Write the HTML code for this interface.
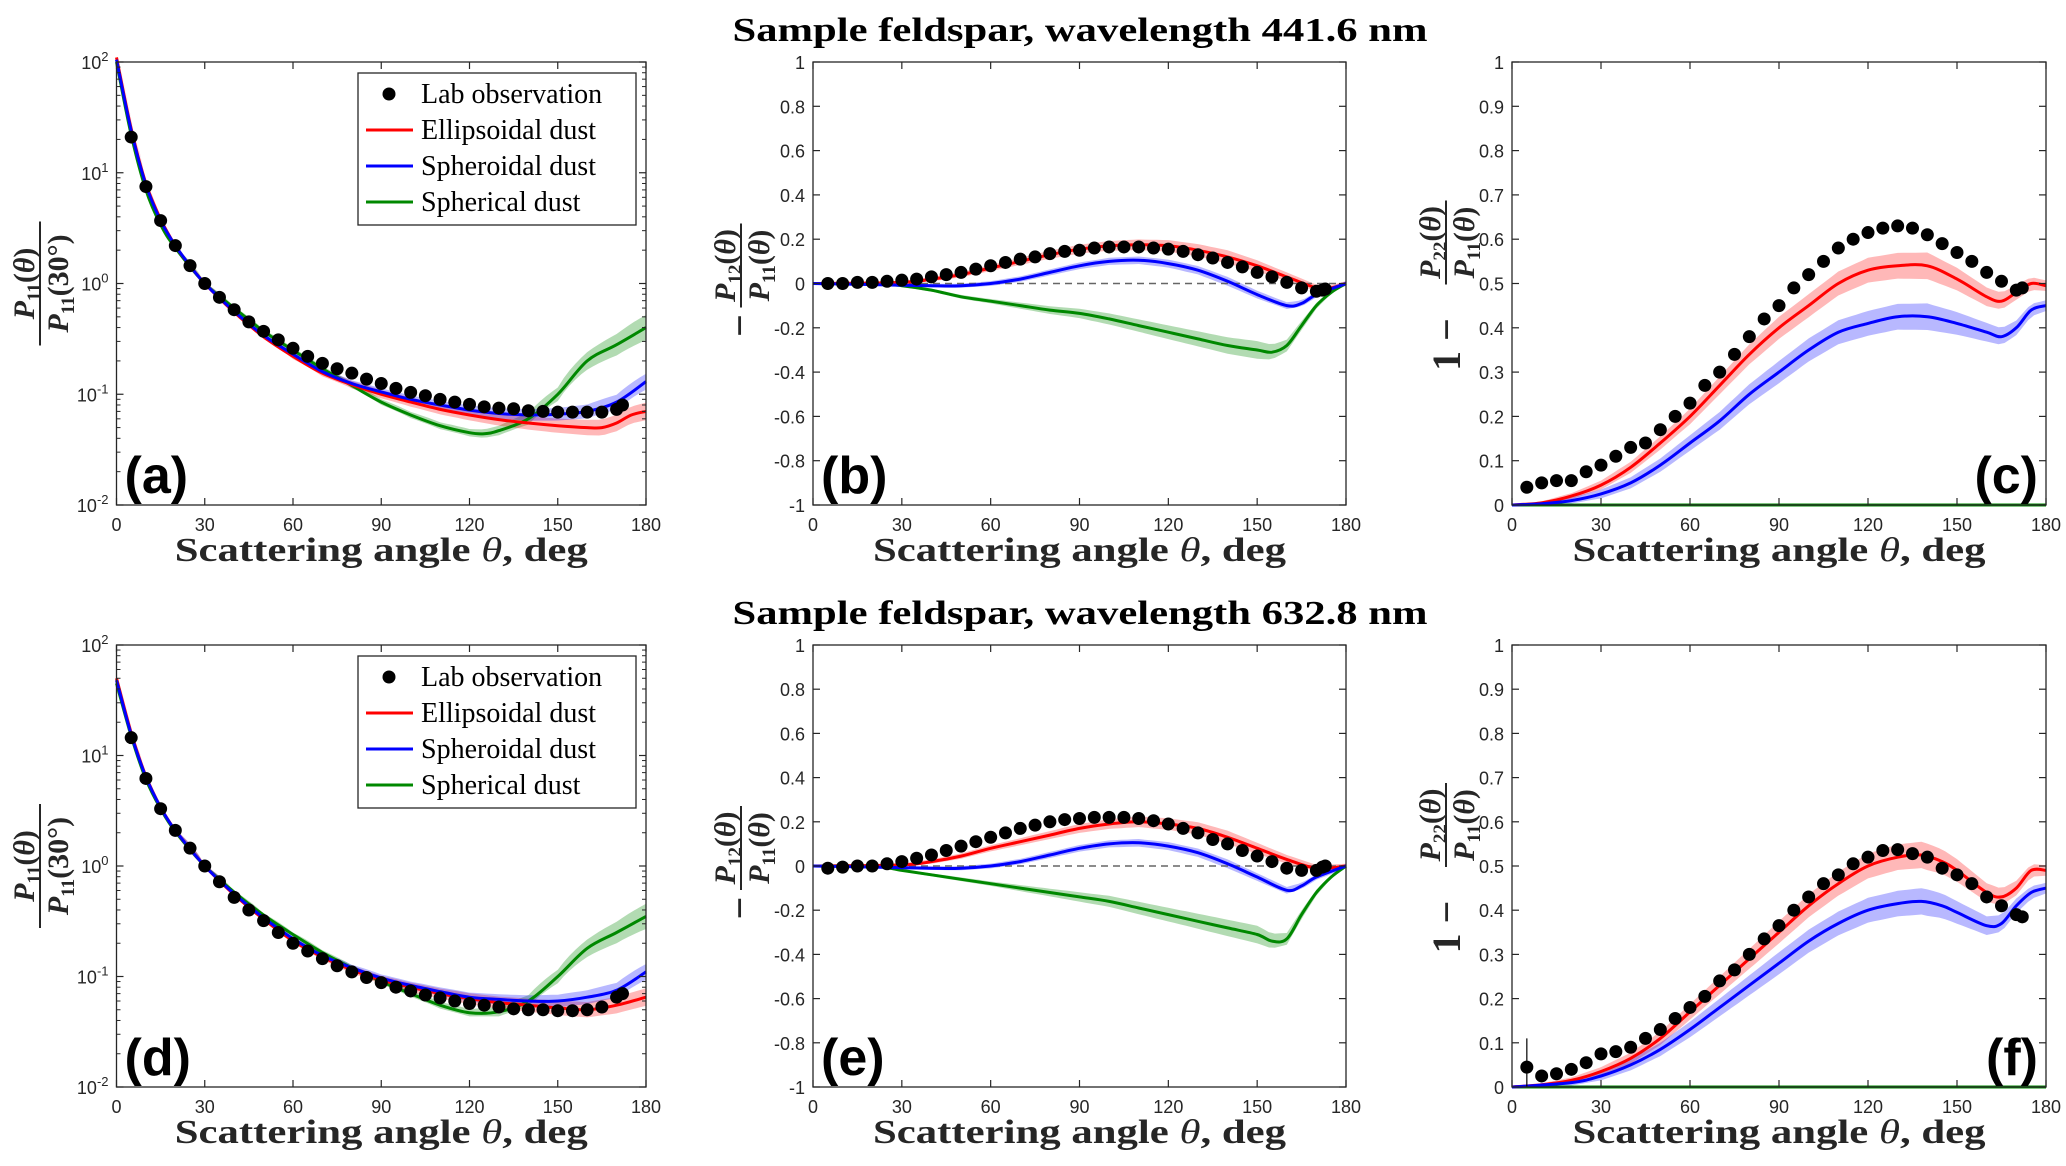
<!DOCTYPE html>
<html><head><meta charset="utf-8"><style>
html,body{margin:0;padding:0;background:#fff}
svg{display:block}
</style></head><body>
<svg id="fig" width="2066" height="1166" viewBox="0 0 2066 1166" xmlns="http://www.w3.org/2000/svg"></svg>
<script>
// ---------- DATA ----------
const obsA=[[5,21],[10,7.5],[15,3.7],[20,2.2],[25,1.45],[30,1.0],[35,0.75],[40,0.58],[45,0.45],[50,0.37],[55,0.31],[60,0.26],[65,0.22],[70,0.19],[75,0.17],[80,0.155],[85,0.137],[90,0.125],[95,0.113],[100,0.104],[105,0.097],[110,0.090],[115,0.085],[120,0.081],[125,0.077],[130,0.075],[135,0.074],[140,0.071],[145,0.070],[150,0.069],[155,0.069],[160,0.069],[165,0.069],[170,0.073],[172,0.08]];
const redA=[[0,110],[5,25],[10,8],[15,3.8],[20,2.2],[25,1.45],[30,1.0],[40,0.55],[50,0.33],[60,0.22],[70,0.155],[80,0.122],[90,0.1],[100,0.085],[110,0.073],[120,0.065],[130,0.059],[140,0.055],[150,0.052],[160,0.05],[165,0.05],[170,0.055],[175,0.065],[180,0.07]];
const blueA=[[0,105],[5,24],[10,7.8],[15,3.7],[20,2.2],[25,1.45],[30,1.0],[40,0.56],[50,0.34],[60,0.23],[70,0.16],[80,0.125],[90,0.105],[100,0.09],[110,0.08],[120,0.072],[130,0.067],[140,0.065],[150,0.066],[160,0.07],[170,0.085],[180,0.13]];
const greenA=[[0,100],[5,22],[10,7],[15,3.4],[20,2.1],[30,1.0],[40,0.6],[50,0.37],[60,0.25],[70,0.17],[80,0.12],[90,0.085],[100,0.065],[110,0.052],[120,0.045],[125,0.044],[130,0.047],[140,0.06],[150,0.1],[160,0.2],[170,0.28],[180,0.4]];
const obsD=[[5,14.5],[10,6.2],[15,3.3],[20,2.1],[25,1.45],[30,1.0],[35,0.72],[40,0.52],[45,0.4],[50,0.32],[55,0.25],[60,0.2],[65,0.17],[70,0.145],[75,0.125],[80,0.11],[85,0.098],[90,0.088],[95,0.08],[100,0.074],[105,0.068],[110,0.064],[115,0.06],[120,0.057],[125,0.055],[130,0.053],[135,0.051],[140,0.05],[145,0.05],[150,0.049],[155,0.049],[160,0.05],[165,0.053],[170,0.065],[172,0.07]];
const redD=[[0,50],[5,16],[10,6.5],[15,3.4],[20,2.1],[30,1.0],[40,0.55],[50,0.33],[60,0.21],[70,0.15],[80,0.115],[90,0.093],[100,0.08],[110,0.07],[120,0.063],[130,0.058],[140,0.055],[150,0.052],[160,0.05],[170,0.055],[180,0.065]];
const blueD=[[0,48],[5,15.5],[10,6.4],[15,3.4],[20,2.1],[30,1.0],[40,0.56],[50,0.34],[60,0.22],[70,0.155],[80,0.12],[90,0.097],[100,0.083],[110,0.073],[120,0.065],[130,0.062],[140,0.06],[150,0.06],[160,0.065],[170,0.075],[180,0.11]];
const greenD=[[0,45],[5,15],[10,6.1],[15,3.3],[20,2.05],[30,1.0],[40,0.58],[50,0.36],[60,0.24],[70,0.165],[80,0.12],[90,0.09],[100,0.07],[110,0.055],[120,0.047],[130,0.048],[140,0.06],[150,0.1],[160,0.18],[170,0.25],[180,0.35]];
const obsB=[[5,0],[10,0],[15,0.005],[20,0.005],[25,0.01],[30,0.015],[35,0.02],[40,0.03],[45,0.04],[50,0.05],[55,0.065],[60,0.08],[65,0.095],[70,0.11],[75,0.12],[80,0.135],[85,0.145],[90,0.15],[95,0.16],[100,0.165],[105,0.165],[110,0.165],[115,0.16],[120,0.155],[125,0.145],[130,0.13],[135,0.115],[140,0.095],[145,0.075],[150,0.05],[155,0.03],[160,0.005],[165,-0.02],[170,-0.035],[172,-0.03],[173,-0.025]];
const redB=[[0,0],[30,0.005],[40,0.02],[50,0.04],[60,0.07],[70,0.1],[80,0.13],[90,0.155],[100,0.17],[110,0.175],[120,0.17],[130,0.15],[140,0.12],[150,0.08],[160,0.03],[170,-0.02],[175,-0.02],[180,0]];
const blueB=[[0,0],[40,-0.01],[50,-0.01],[60,0],[70,0.02],[80,0.05],[90,0.08],[100,0.1],[110,0.105],[120,0.09],[130,0.06],[140,0.01],[150,-0.05],[160,-0.1],[165,-0.09],[170,-0.05],[180,0]];
const greenB=[[0,0],[20,0],[30,-0.01],[40,-0.03],[50,-0.06],[60,-0.08],[70,-0.1],[80,-0.12],[90,-0.135],[100,-0.16],[110,-0.19],[120,-0.22],[130,-0.25],[140,-0.28],[150,-0.3],[155,-0.31],[160,-0.28],[165,-0.19],[170,-0.1],[175,-0.04],[180,0]];
const obsE=[[5,-0.01],[10,-0.005],[15,0],[20,0],[25,0.01],[30,0.02],[35,0.035],[40,0.05],[45,0.07],[50,0.09],[55,0.11],[60,0.13],[65,0.15],[70,0.17],[75,0.185],[80,0.2],[85,0.21],[90,0.215],[95,0.22],[100,0.22],[105,0.22],[110,0.215],[115,0.205],[120,0.19],[125,0.17],[130,0.15],[135,0.12],[140,0.1],[145,0.07],[150,0.045],[155,0.02],[160,-0.01],[165,-0.02],[170,-0.02],[172,-0.005],[173,0]];
const redE=[[0,0],[30,0.005],[40,0.02],[50,0.045],[60,0.08],[70,0.11],[80,0.14],[90,0.17],[100,0.19],[110,0.2],[120,0.19],[130,0.17],[140,0.13],[150,0.08],[160,0.03],[170,-0.01],[180,0]];
const blueE=[[0,0],[40,-0.01],[50,-0.01],[60,0],[70,0.02],[80,0.05],[90,0.08],[100,0.1],[110,0.105],[120,0.09],[130,0.06],[140,0.01],[150,-0.05],[160,-0.11],[165,-0.09],[170,-0.05],[180,0]];
const greenE=[[0,0],[20,0],[30,-0.02],[40,-0.04],[50,-0.06],[60,-0.08],[70,-0.1],[80,-0.12],[90,-0.14],[100,-0.16],[110,-0.19],[120,-0.22],[130,-0.25],[140,-0.28],[150,-0.31],[155,-0.34],[160,-0.33],[165,-0.22],[170,-0.12],[175,-0.05],[180,0]];
const obsC=[[5,0.04],[10,0.05],[15,0.055],[20,0.055],[25,0.075],[30,0.09],[35,0.11],[40,0.13],[45,0.14],[50,0.17],[55,0.2],[60,0.23],[65,0.27],[70,0.3],[75,0.34],[80,0.38],[85,0.42],[90,0.45],[95,0.49],[100,0.52],[105,0.55],[110,0.58],[115,0.6],[120,0.615],[125,0.625],[130,0.63],[135,0.625],[140,0.61],[145,0.59],[150,0.57],[155,0.55],[160,0.525],[165,0.505],[170,0.485],[172,0.49]];
const redC=[[0,0],[10,0.005],[20,0.02],[30,0.045],[40,0.085],[50,0.14],[60,0.2],[70,0.27],[80,0.34],[90,0.4],[100,0.45],[110,0.5],[120,0.53],[130,0.54],[140,0.54],[150,0.51],[160,0.47],[165,0.46],[170,0.48],[175,0.5],[180,0.495]];
const blueC=[[0,0],[10,0.003],[20,0.01],[30,0.025],[40,0.05],[50,0.09],[60,0.14],[70,0.19],[80,0.25],[90,0.3],[100,0.35],[110,0.39],[120,0.41],[130,0.425],[140,0.425],[150,0.41],[160,0.39],[165,0.38],[170,0.4],[175,0.44],[180,0.45]];
const greenC=[[0,0],[180,0]];
const obsF=[[5,0.045],[10,0.025],[15,0.03],[20,0.04],[25,0.055],[30,0.075],[35,0.08],[40,0.09],[45,0.11],[50,0.13],[55,0.155],[60,0.18],[65,0.205],[70,0.24],[75,0.265],[80,0.3],[85,0.335],[90,0.365],[95,0.4],[100,0.43],[105,0.46],[110,0.48],[115,0.505],[120,0.52],[125,0.535],[130,0.537],[135,0.528],[140,0.52],[145,0.495],[150,0.48],[155,0.46],[160,0.43],[165,0.41],[170,0.39],[172,0.385]];
const redF=[[0,0],[10,0.005],[20,0.015],[30,0.035],[40,0.065],[50,0.11],[60,0.17],[70,0.23],[80,0.29],[90,0.35],[100,0.41],[110,0.46],[120,0.5],[130,0.52],[138,0.525],[145,0.51],[150,0.49],[160,0.44],[165,0.43],[170,0.45],[175,0.49],[180,0.49]];
const blueF=[[0,0],[20,0.01],[30,0.025],[40,0.05],[50,0.085],[60,0.13],[70,0.18],[80,0.23],[90,0.28],[100,0.33],[110,0.37],[120,0.4],[130,0.415],[138,0.42],[145,0.41],[150,0.395],[160,0.365],[165,0.37],[170,0.41],[175,0.44],[180,0.45]];
const greenF=[[0,0],[180,0]];
const bandLogRed=[[0,0],[60,0.06],[120,0.12],[180,0.2]];
const bandLogBlue=[[0,0],[60,0.05],[120,0.1],[180,0.18]];
const bandLogGreen=[[0,0],[60,0.04],[120,0.08],[150,0.15],[180,0.3]];
const bandLinRed=[[0,0],[40,0.01],[90,0.02],[140,0.03],[180,0.01]];
const bandLinBlue=[[0,0],[40,0.008],[90,0.015],[140,0.02],[180,0.01]];
const bandLinGreen=[[0,0],[60,0.01],[100,0.025],[150,0.04],[180,0.0]];
const bandC=[[0,0],[30,0.01],[90,0.025],[140,0.03],[180,0.012]];
const xTicks=[0,30,60,90,120,150,180];
const logTicks=[-2,-1,0,1,2];
const pTicks=[-1,-0.8,-0.6,-0.4,-0.2,0,0.2,0.4,0.6,0.8,1];
const dTicks=[0,0.1,0.2,0.3,0.4,0.5,0.6,0.7,0.8,0.9,1];
const titles=["Sample feldspar, wavelength 441.6 nm","Sample feldspar, wavelength 632.8 nm"];
const legendLabels=["Lab observation","Ellipsoidal dust","Spheroidal dust","Spherical dust"];

// ---------- DRAW ----------
const NS="http://www.w3.org/2000/svg";
const svg=document.getElementById('fig');
function mk(tag,attrs,parent){const e=document.createElementNS(NS,tag);for(const k in attrs)e.setAttribute(k,attrs[k]);(parent||svg).appendChild(e);return e;}
const cols=[[116.5,646],[813,1346],[1512,2046]];
const rows=[[62,505],[645,1087]];
function interp(arr,x){for(let i=0;i<arr.length-1;i++){if(x>=arr[i][0]&&x<=arr[i+1][0]){const t=(x-arr[i][0])/(arr[i+1][0]-arr[i][0]);return arr[i][1]+t*(arr[i+1][1]-arr[i][1]);}}return arr[arr.length-1][1];}
function smoothPath(pts){if(pts.length<3)return 'M'+pts.map(p=>p[0]+','+p[1]).join('L');let d='M'+pts[0][0]+','+pts[0][1];for(let i=0;i<pts.length-1;i++){const p0=pts[Math.max(0,i-1)],p1=pts[i],p2=pts[i+1],p3=pts[Math.min(pts.length-1,i+2)];const c1=[p1[0]+(p2[0]-p0[0])/6,p1[1]+(p2[1]-p0[1])/6],c2=[p2[0]-(p3[0]-p1[0])/6,p2[1]-(p3[1]-p1[1])/6];d+='C'+c1[0].toFixed(1)+','+c1[1].toFixed(1)+' '+c2[0].toFixed(1)+','+c2[1].toFixed(1)+' '+p2[0].toFixed(1)+','+p2[1].toFixed(1);}return d;}

function fracLabel(top,bot,offset){
  const font='font-family="Liberation Serif, serif" font-weight="bold" fill="#262626"';
  return '<text x="'+offset+'" y="-6" text-anchor="middle" '+font+' font-size="30"><tspan font-style="italic">P</tspan><tspan font-size="19" dy="6">'+top+'</tspan><tspan dy="-6">(</tspan><tspan font-style="italic">θ</tspan>)</text>'+
    '<line x1="'+(offset-42)+'" x2="'+(offset+42)+'" y1="0" y2="0" stroke="#262626" stroke-width="2"/>'+
    '<text x="'+offset+'" y="28" text-anchor="middle" '+font+' font-size="30"><tspan font-style="italic">P</tspan><tspan font-size="19" dy="6">11</tspan><tspan dy="-6">'+bot+'</tspan></text>';
}

function panel(ci,ri,type,obs,red,blue,green,label,id){
  const [x0,x1]=cols[ci],[y0,y1]=rows[ri];
  const g=mk('g',{});
  
  
  const X=v=>x0+(v/180)*(x1-x0);
  let Y;
  if(type==='log')Y=v=>y1-((Math.log10(v)+2)/4)*(y1-y0);
  else if(type==='pol')Y=v=>y1-((v+1)/2)*(y1-y0);
  else Y=v=>y1-v*(y1-y0);
  const series=[[red,'#ff0000',type==='log'?bandLogRed:type==='pol'?bandLinRed:bandC,'red'],[blue,'#0000ff',type==='log'?bandLogBlue:type==='pol'?bandLinBlue:bandC,'blue'],[green,'#008800',type==='log'?bandLogGreen:type==='pol'?bandLinGreen:[[0,0],[180,0]],'green']];
  const order=[2,0,1];
  order.forEach(si=>{const [s,col,band,nm]=series[si];
    const up=[],lo=[];
    for(let a=0;a<=180;a+=2){const v=interp(s,a),w=interp(band,a);let hi,lw;if(type==='log'){hi=v*(1+w);lw=v/(1+w);}else{hi=v+w;lw=v-w;}up.push([X(a),Y(hi)]);lo.push([X(a),Y(lw)]);}
    const b=mk('path',{d:'M'+up.map(p=>p[0].toFixed(1)+','+p[1].toFixed(1)).join('L')+'L'+lo.reverse().map(p=>p[0].toFixed(1)+','+p[1].toFixed(1)).join('L')+'Z',fill:col,'fill-opacity':nm==='green'?0.3:0.28,stroke:'none'},g);
    
    
  });
  if(type==='pol'){const z=mk('line',{x1:x0,x2:x1,y1:Y(0),y2:Y(0),stroke:'#666','stroke-width':1.5,'stroke-dasharray':'7,5'},g);
    
    }
  order.forEach(si=>{const [s,col,,nm]=series[si];
    const l=mk('path',{d:smoothPath(s.map(p=>[X(p[0]),Y(p[1])])),fill:'none',stroke:col,'stroke-width':3},g);
    
    
  });
  if(id==='f'){const eb=mk('line',{x1:X(5),x2:X(5),y1:Y(0.11),y2:Y(0),stroke:'#000','stroke-width':1.2},g);
    
    }
  obs.forEach(p=>{const c=mk('circle',{cx:X(p[0]),cy:Y(p[1]),r:6.5,fill:'#000'},g);
    
    });
  const bx=mk('rect',{x:x0,y:y0,width:x1-x0,height:y1-y0,fill:'none',stroke:'#262626','stroke-width':1.3},g);
  
  
  xTicks.forEach(t=>{const x=X(t);
    mk('line',{x1:x,x2:x,y1:y1,y2:y1-7,stroke:'#262626','stroke-width':1.2},g);
    mk('line',{x1:x,x2:x,y1:y0,y2:y0+7,stroke:'#262626','stroke-width':1.2},g);
    const tx=mk('text',{x:x,y:y1+26,'text-anchor':'middle','font-family':'Liberation Sans, sans-serif','font-size':18,fill:'#262626'},g);
    tx.textContent=t;
    
    });
  const yt=type==='log'?logTicks:type==='pol'?pTicks:dTicks;
  yt.forEach(t=>{const y=type==='log'?Y(Math.pow(10,t)):Y(t);
    mk('line',{x1:x0,x2:x0+7,y1:y,y2:y,stroke:'#262626','stroke-width':1.2},g);
    mk('line',{x1:x1,x2:x1-7,y1:y,y2:y,stroke:'#262626','stroke-width':1.2},g);
    const tx=mk('text',{x:x0-8,y:y+7,'text-anchor':'end','font-family':'Liberation Sans, sans-serif','font-size':18,fill:'#262626'},g);
    if(type==='log'){tx.textContent='10';const s=mk('tspan',{dy:-8,'font-size':13},tx);s.textContent=String(t);}
    else tx.textContent=String(t);
    
    
    if(type==='log'&&t<2){for(let m=2;m<10;m++){const yy=Y(m*Math.pow(10,t));mk('line',{x1:x0,x2:x0+4,y1:yy,y2:yy,stroke:'#262626','stroke-width':1},g);mk('line',{x1:x1,x2:x1-4,y1:yy,y2:yy,stroke:'#262626','stroke-width':1},g);}}
  });
  const xl=mk('text',{x:(x0+x1)/2,y:y1+56,'text-anchor':'middle','font-family':'Liberation Serif, serif','font-size':34,'font-weight':'bold',fill:'#262626',textLength:413,lengthAdjust:'spacingAndGlyphs'},g);
  xl.innerHTML='Scattering angle <tspan font-style="italic" font-weight="normal">θ</tspan>, deg';
  
  
  const cy=(y0+y1)/2;
  const yg=mk('g',{},g);
  
  
  const font='font-family="Liberation Serif, serif" font-weight="bold" fill="#262626"';
  if(type==='log'){
    yg.setAttribute('transform','translate(40,'+cy+') rotate(-90)');
    yg.innerHTML='<text x="0" y="-6" text-anchor="middle" '+font+' font-size="30"><tspan font-style="italic">P</tspan><tspan font-size="19" dy="6">11</tspan><tspan dy="-6">(</tspan><tspan font-style="italic">θ</tspan>)</text><line x1="-62" x2="62" y1="0" y2="0" stroke="#262626" stroke-width="2"/><text x="0" y="28" text-anchor="middle" '+font+' font-size="30"><tspan font-style="italic">P</tspan><tspan font-size="19" dy="6">11</tspan><tspan dy="-6">(30°)</tspan></text>';
  } else if(type==='pol'){
    yg.setAttribute('transform','translate('+(x0-72)+','+cy+') rotate(-90)');
    yg.innerHTML='<text x="-42" y="12" text-anchor="middle" '+font+' font-size="40">−</text>'+fracLabel('12','(<tspan font-style="italic">θ</tspan>)',18);
  } else {
    yg.setAttribute('transform','translate('+(x0-66)+','+cy+') rotate(-90)');
    yg.innerHTML='<text x="-61" y="14" text-anchor="middle" '+font+' font-size="40">1 −</text>'+fracLabel('22','(<tspan font-style="italic">θ</tspan>)',41);
  }
  const pl=mk('text',{x:type==='dep'?x1-8:x0+8,y:y1-12,'text-anchor':type==='dep'?'end':'start','font-family':'Liberation Sans, sans-serif','font-size':52,'font-weight':'bold',fill:'#000'},g);
  pl.textContent=label;
  
  
  if(type==='log'){
    const lx=358,ly=y0+11,lw=278,lh=152;
    const lg=mk('g',{},g);
    
    
    mk('rect',{x:lx,y:ly,width:lw,height:lh,fill:'#fff',stroke:'#262626','stroke-width':1.3},lg);
    legendLabels.forEach((txt,i)=>{const yy=ly+21+i*36;
      const e=mk('g',{},lg);
      
      
      if(i===0)mk('circle',{cx:389,cy:yy,r:6.5,fill:'#000'},e);
      else mk('line',{x1:366,x2:413,y1:yy,y2:yy,stroke:['','#ff0000','#0000ff','#008800'][i],'stroke-width':3},e);
      const t=mk('text',{x:421,y:yy+9,'font-family':'Liberation Serif, serif','font-size':28,fill:'#000'},e);
      t.textContent=txt;});
  }
}
titles.forEach((t,i)=>{const tt=mk('text',{x:1080,y:i===0?41:624,'text-anchor':'middle','font-family':'Liberation Serif, serif','font-size':34,'font-weight':'bold',fill:'#000',textLength:695,lengthAdjust:'spacingAndGlyphs'});
  tt.textContent=t;
  
  });
panel(0,0,'log',obsA,redA,blueA,greenA,'(a)','a');
panel(1,0,'pol',obsB,redB,blueB,greenB,'(b)','b');
panel(2,0,'dep',obsC,redC,blueC,greenC,'(c)','c');
panel(0,1,'log',obsD,redD,blueD,greenD,'(d)','d');
panel(1,1,'pol',obsE,redE,blueE,greenE,'(e)','e');
panel(2,1,'dep',obsF,redF,blueF,greenF,'(f)','f');
</script>
</body></html>
